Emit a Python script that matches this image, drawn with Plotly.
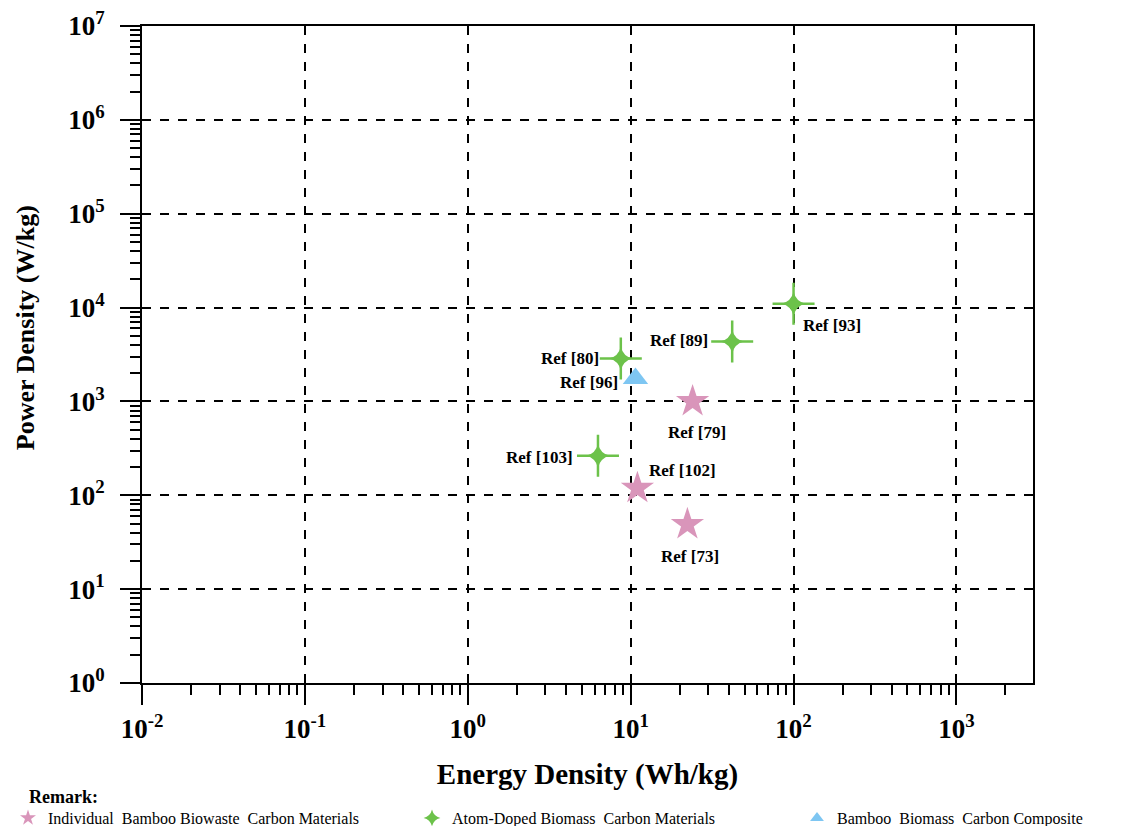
import math
import plotly.graph_objects as go

# ---- data ----
series_names = [
    "Individual  Bamboo Biowaste  Carbon Materials",
    "Atom-Doped Biomass  Carbon Materials",
    "Bamboo  Biomass  Carbon Composite",
]
pink_refs = ["Ref [79]", "Ref [102]", "Ref [73]"]
pink_energy = [24, 11, 22.3]
pink_power = [1000, 119, 49]

green_refs = ["Ref [93]", "Ref [89]", "Ref [80]", "Ref [103]"]
green_energy = [100, 42, 8.7, 6.3]
green_power = [11000, 4340, 2860, 263]

blue_refs = ["Ref [96]"]
blue_energy = [10.7]
blue_power = [1750]

x_tickvals = [0.01, 0.1, 1, 10, 100, 1000]
x_ticktext = ["10<sup>-2</sup>", "10<sup>-1</sup>", "10<sup>0</sup>",
              "10<sup>1</sup>", "10<sup>2</sup>", "10<sup>3</sup>"]
y_tickvals = [1, 10, 100, 1e3, 1e4, 1e5, 1e6, 1e7]
y_ticktext = ["10<sup>0</sup>", "10<sup>1</sup>", "10<sup>2</sup>", "10<sup>3</sup>",
              "10<sup>4</sup>", "10<sup>5</sup>", "10<sup>6</sup>", "10<sup>7</sup>"]

x_title = "Energy Density (Wh/kg)"
y_title = "Power Density (W/kg)"

# label offsets in pixels (dx, dy) relative to each point
label_offsets = {
    "Ref [93]": (38, -22), "Ref [89]": (-53, 1), "Ref [80]": (-51, 0),
    "Ref [96]": (-46, -4), "Ref [79]": (4, -31), "Ref [103]": (-58, -2),
    "Ref [102]": (45, 18), "Ref [73]": (3, -32),
}

PINK = "#D995BA"
GREEN = "#6CC24A"
BLUE = "#7EC6F2"
SERIF = "Liberation Serif, Times New Roman, serif"

W, H = 1114, 818  # page body has an 8px margin

fig = go.Figure()
fig.add_trace(go.Scatter(x=pink_energy, y=pink_power, mode="markers", name=series_names[0],
                         marker=dict(symbol="star", size=25, color=PINK), legend="legend"))
# thin 4-point star: cross-thin arms under a small star-diamond core
fig.add_trace(go.Scatter(x=green_energy, y=green_power, mode="markers", showlegend=False,
                         hoverinfo="skip",
                         marker=dict(symbol="cross-thin", size=30, color=GREEN,
                                     line=dict(color=GREEN, width=2.5))))
fig.add_trace(go.Scatter(x=green_energy, y=green_power, mode="markers", name=series_names[1],
                         marker=dict(symbol="star-diamond", size=17, color=GREEN), legend="legend2"))
fig.add_trace(go.Scatter(x=blue_energy, y=blue_power, mode="markers", name=series_names[2],
                         marker=dict(symbol="triangle-up", size=22, color=BLUE), legend="legend3"))

for refs, xs, ys in [(pink_refs, pink_energy, pink_power),
                     (green_refs, green_energy, green_power),
                     (blue_refs, blue_energy, blue_power)]:
    for r, xv, yv in zip(refs, xs, ys):
        dx, dy = label_offsets[r]
        fig.add_annotation(x=math.log10(xv), y=math.log10(yv),
                           xref="x", yref="y", text=r, showarrow=False,
                           xshift=dx, yshift=dy,
                           font=dict(family=SERIF, size=17, color="black", weight="bold"))

fig.add_annotation(x=-0.129, y=-0.1735, xref="paper", yref="paper",
                   text="<b>Remark:</b>", showarrow=False, xanchor="left", yanchor="middle",
                   font=dict(family=SERIF, size=18, color="black"))
fig.add_annotation(x=-0.1313, y=0.540, xref="paper", yref="paper", text=y_title,
                   textangle=-90, showarrow=False, xanchor="center", yanchor="middle",
                   font=dict(family=SERIF, size=26, color="black", weight="bold"))

axis_common = dict(
    type="log", showline=True, linecolor="black", linewidth=2, mirror=True,
    ticks="outside", ticklen=20, tickwidth=2, tickcolor="black",
    showgrid=True, gridcolor="black", gridwidth=2, griddash="dash",
    zeroline=False, automargin=False, ticklabeloverflow="allow",
    tickfont=dict(family=SERIF, size=27, color="black", weight="bold"),
    minor=dict(ticks="outside", ticklen=10, tickwidth=2, tickcolor="black",
               showgrid=False, dtick="D1"),
)

fig.update_xaxes(**axis_common, range=[-2, 3.47], tickvals=x_tickvals, ticktext=x_ticktext,
                 ticklabelstandoff=1,
                 title=dict(text=x_title, standoff=20,
                            font=dict(family=SERIF, size=29, color="black", weight="bold")))
fig.update_yaxes(**axis_common, range=[0, 7], tickvals=y_tickvals, ticktext=y_ticktext,
                 ticklabelstandoff=10)

leg_common = dict(orientation="h", yanchor="middle", xanchor="left", y=8 / H,
                  xref="container", yref="container",
                  bgcolor="rgba(0,0,0,0)", itemsizing="constant",
                  font=dict(family=SERIF, size=16, color="black"))
fig.update_layout(
    width=W, height=H,
    margin=dict(l=134, r=89, t=18, b=143),
    paper_bgcolor="white", plot_bgcolor="white",
    showlegend=True,
    legend=dict(**leg_common, x=0.0),
    legend2=dict(**leg_common, x=404 / W),
    legend3=dict(**leg_common, x=789 / W),
)

fig.write_html("out.html")
